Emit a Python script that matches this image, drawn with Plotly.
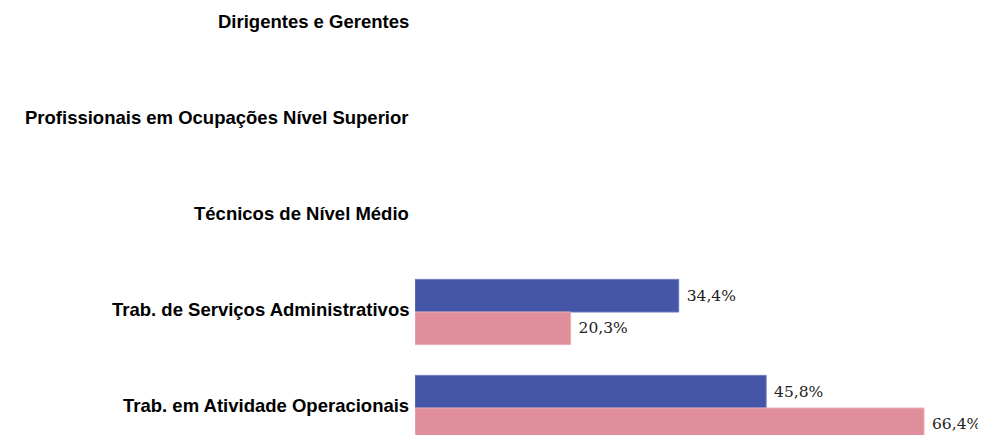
import plotly.graph_objects as go

categories = [
    "Dirigentes e Gerentes",
    "Profissionais em Ocupações Nível Superior",
    "Técnicos de Nível Médio",
    "Trab. de Serviços Administrativos",
    "Trab. em Atividade Operacionais",
]
serie_azul = [None, None, None, 34.4, 45.8]
serie_rosa = [None, None, None, 20.3, 66.4]

def fmt(v):
    return "" if v is None else "\u00a0" + f"{v:.1f}%".replace(".", ",")

label_font = dict(family="DejaVu Serif", size=15.5, color="#222222")

fig = go.Figure()
fig.add_trace(go.Bar(
    y=categories, x=serie_azul, orientation="h",
    marker=dict(color="#4555A8", line=dict(color="#6c7ac0", width=1)),
    text=[fmt(v) for v in serie_azul], textposition="outside",
    textfont=label_font, cliponaxis=False, showlegend=False,
))
fig.add_trace(go.Bar(
    y=categories, x=serie_rosa, orientation="h",
    marker=dict(color="#E08E9B", line=dict(color="#eab0b9", width=1)),
    text=[fmt(v) for v in serie_rosa], textposition="outside",
    textfont=label_font, cliponaxis=False, showlegend=False,
))

for c in categories:
    fig.add_annotation(
        xref="paper", yref="y", x=0, y=c, xanchor="right", yanchor="middle",
        xshift=-4, yshift=3, showarrow=False, text=c,
        font=dict(family="Liberation Sans", size=18.5, color="#000000", weight="bold"),
    )

fig.update_layout(
    width=978, height=427,
    margin=dict(l=407, r=0, t=0, b=0),
    barmode="group", bargap=0.32, bargroupgap=0,
    plot_bgcolor="white", paper_bgcolor="white",
)
fig.update_xaxes(range=[0, 74.48], visible=False, showgrid=False, zeroline=False)
fig.update_yaxes(
    type="category", categoryorder="array", categoryarray=categories,
    range=[4.281, -0.1667], showgrid=False, zeroline=False, showline=False,
    ticks="", showticklabels=False,
)

fig.write_html("out.html")
